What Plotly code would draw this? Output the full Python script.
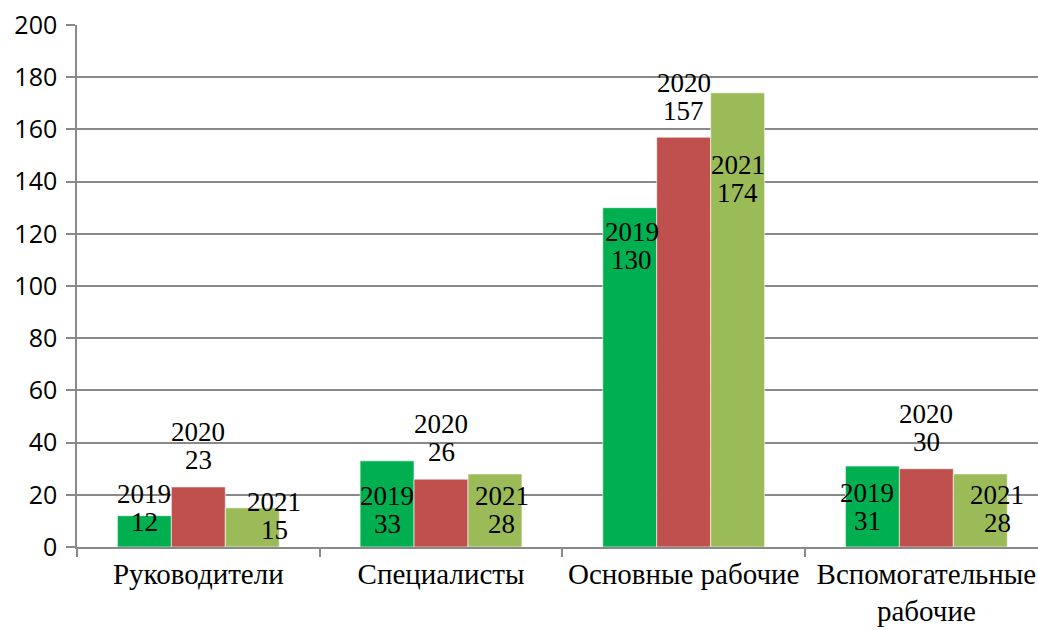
import plotly.graph_objects as go

# Staff headcount by category and year
categories = ["Руководители", "Специалисты", "Основные рабочие", "Вспомогательные<br>рабочие"]
years = ["2019", "2020", "2021"]
values_2019 = [12, 33, 130, 31]
values_2020 = [23, 26, 157, 30]
values_2021 = [15, 28, 174, 28]
y_ticks = [0, 20, 40, 60, 80, 100, 120, 140, 160, 180, 200]

series = [values_2019, values_2020, values_2021]
colors = ["#00B050", "#C0504D", "#9BBB59"]

# Label placement per year: (pixel shift of the label block centre from the bar top,
# horizontal pixel shift), one entry per category
label_offsets = {
    "2019": [(8, 0), (-49, 0), (-38, 2), (-41, -5)],
    "2020": [(41, 0), (41, 0), (40, 0), (41, 0)],
    "2021": [(-8, 22), (-36, 7), (-86, 0), (-35, 17)],
}

GRID = "#898989"
SERIF = "Liberation Serif"
LINE_GAP = 28
bar_step = 0.667 / 3

fig = go.Figure()
for year, vals, col in zip(years, series, colors):
    fig.add_trace(go.Bar(
        name=year, x=categories, y=vals,
        marker=dict(color=col, line=dict(color="#FFFFFF", width=0.6)),
        showlegend=False,
    ))

# Two-line data labels: year on top, value below
for k, (year, vals) in enumerate(zip(years, series)):
    for i, v in enumerate(vals):
        dy, dx = label_offsets[year][i]
        xc = i + (k - 1) * bar_step
        for line_text, extra in ((year, LINE_GAP / 2), (str(v), -LINE_GAP / 2)):
            fig.add_annotation(
                x=xc, y=v, xref="x", yref="y", text=line_text, showarrow=False,
                xanchor="center", yanchor="middle",
                xshift=dx, yshift=dy + extra,
                font=dict(family=SERIF, size=27, color="black"),
            )

fig.update_layout(
    font=dict(family=SERIF, color="black"),
    width=1038, height=630,
    margin=dict(l=77, r=0, t=25, b=83),
    paper_bgcolor="white", plot_bgcolor="white",
    barmode="group", bargap=0.333, bargroupgap=0,
)
fig.update_xaxes(
    type="category", range=[-0.5, 3.46],
    showline=True, linecolor=GRID, linewidth=1.5,
    ticks="outside", tickson="boundaries", ticklen=8, tickcolor=GRID, tickwidth=1.5,
    showgrid=False,
    tickfont=dict(family=SERIF, size=29, color="black"),
)
fig.update_yaxes(
    range=[0, 200], tickvals=y_ticks,
    showline=True, linecolor=GRID, linewidth=1.5,
    showgrid=True, gridcolor=GRID, gridwidth=1.5,
    ticks="outside", ticklen=9, tickcolor=GRID, tickwidth=1.5,
    ticklabelstandoff=4,
    zeroline=False,
    tickfont=dict(family="Open Sans", size=25, color="black"),
)

fig.write_html("out.html")
